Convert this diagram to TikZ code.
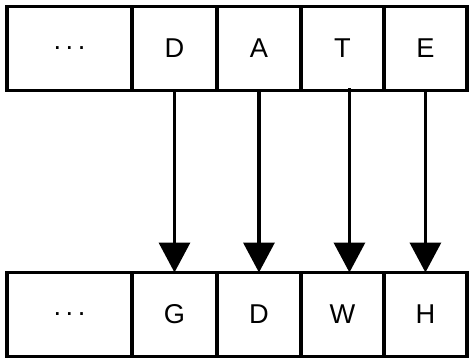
\documentclass[tikz,border=0pt]{standalone}
\usepackage{fontspec}
\setmainfont{Liberation Sans}
\usetikzlibrary{positioning,arrows.meta}

\begin{document}
\begin{tikzpicture}[x=0.02cm,y=-0.02cm,
  cell/.style={draw,line width=0.07cm,inner sep=0pt,outer sep=0pt,
    minimum height=1.68cm,font=\fontsize{15.5}{18}\selectfont},
  letterarrow/.style={->,line width=0.07cm,
    >={Triangle[width=0.62cm,length=0.6cm]}}]
	%% page size
	\useasboundingbox (0,0) rectangle (471,361);

	% upper word
	\node[cell,minimum width=2.5cm] (tDots) at (69.5,48.5) {.\,.\,.};
	\node[cell,minimum width=1.7cm,right=0pt of tDots] (tD) {D};
	\node[cell,minimum width=1.68cm,right=0pt of tD] (tA) {A};
	\node[cell,minimum width=1.66cm,right=0pt of tA] (tT) {T};
	\node[cell,minimum width=1.66cm,right=0pt of tT] (tE) {E};

	% lower word
	\node[cell,minimum width=2.5cm] (bDots) at (69.5,314.5) {.\,.\,.};
	\node[cell,minimum width=1.7cm,right=0pt of bDots] (bG) {G};
	\node[cell,minimum width=1.68cm,right=0pt of bG] (bD) {D};
	\node[cell,minimum width=1.66cm,right=0pt of bD] (bW) {W};
	\node[cell,minimum width=1.66cm,right=0pt of bW] (bH) {H};

	% letter shifts
	\draw[letterarrow] (tD.south) -- (bG.north);
	\draw[letterarrow] (tA.south) -- (bD.north);
	\draw[letterarrow] ([xshift=0.14cm,yshift=0.04cm]tT.south) -- ([xshift=0.14cm]bW.north);
	\draw[letterarrow] (tE.south) -- (bH.north);
\end{tikzpicture}
\end{document}
